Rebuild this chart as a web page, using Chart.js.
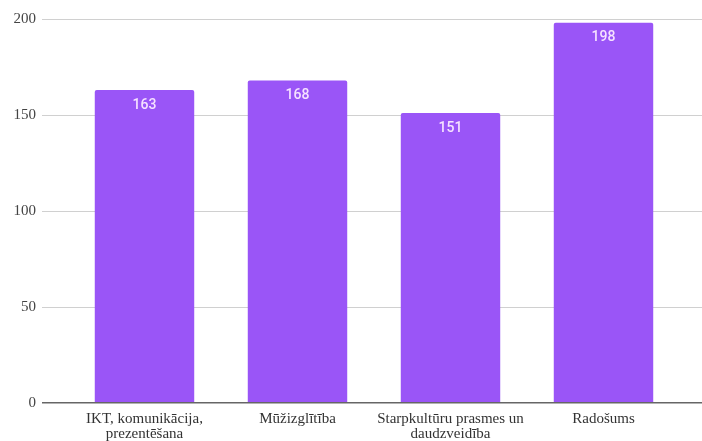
<!DOCTYPE html>
<html>
<head>
<meta charset="utf-8">
<script src="https://cdn.jsdelivr.net/npm/chart.js@4/dist/chart.umd.min.js"></script>
<style>
  html, body { margin: 0; padding: 0; background: #fff; }
  #wrap { width: 702px; height: 441px; }
</style>
</head>
<body>
<div id="wrap"><canvas id="barChart"></canvas></div>
<script>
var categories = [['IKT, komunikācija,', 'prezentēšana'], 'Mūžizglītība', ['Starpkultūru prasmes un', 'daudzveidība'], 'Radošums'];
var counts = [163, 168, 151, 198];
var yTicks = [0, 50, 100, 150, 200];

// zero line is drawn by the plugin below, so hide it here
var gridColor = function (ctx) {
    return ctx.tick && ctx.tick.value === 0 ? 'rgba(0,0,0,0)' : '#d0d0d0';
};

// Google-style grid lines run past the plot on the right
var extendGrid = {
    id: 'extendGrid',
    beforeDatasetsDraw: function (chart) {
        var c = chart.ctx, y = chart.scales.y, area = chart.chartArea;
        c.save();
        c.strokeStyle = '#d0d0d0';
        c.lineWidth = 1;
        yTicks.forEach(function (v) {
            if (v === 0) return;
            var py = Math.round(y.getPixelForValue(v) - 0.5) + 0.5;
            c.beginPath();
            c.moveTo(area.right - 4, py);
            c.lineTo(chart.width, py);
            c.stroke();
        });
        c.restore();
    },
    afterDatasetsDraw: function (chart) {
        var c = chart.ctx, y = chart.scales.y, area = chart.chartArea;
        var py = Math.round(y.getPixelForValue(0) - 0.8) + 0.8;
        c.save();
        c.strokeStyle = '#666666';
        c.lineWidth = 1.6;
        c.beginPath();
        c.moveTo(area.left - 26, py);
        c.lineTo(chart.width, py);
        c.stroke();
        c.restore();
    }
};

var barLabels = {
    id: 'barLabels',
    afterDatasetsDraw: function (chart) {
        var c = chart.ctx;
        c.save();
        c.fillStyle = '#f6e2ff';
        c.font = '500 14px Roboto, "Liberation Sans", Arial, sans-serif';
        c.textAlign = 'center';
        c.textBaseline = 'middle';
        chart.getDatasetMeta(0).data.forEach(function (bar, i) {
            c.fillText(counts[i], bar.x, bar.y + 15);
        });
        c.restore();
    }
};

var serif = '"Liberation Serif", "Times New Roman", serif';

var barCtx = document.getElementById('barChart').getContext('2d');
var barChart = new Chart(barCtx, {
    type: 'bar',
    data: {
        labels: categories,
        datasets: [{
            data: counts,
            backgroundColor: '#9a55f7',
            categoryPercentage: 0.65,
            barPercentage: 1,
            borderRadius: { topLeft: 2, topRight: 2 },
            borderSkipped: 'bottom'
        }]
    },
    options: {
        responsive: true,
        maintainAspectRatio: false,
        animation: false,
        layout: { padding: { top: 19, right: 22, left: 0, bottom: 0 } },
        plugins: {
            legend: { display: false },
            tooltip: { enabled: false }
        },
        scales: {
            x: {
                grid: { display: false, drawTicks: false },
                border: { display: false },
                ticks: {
                    color: '#333333',
                    font: { family: serif, size: 15, lineHeight: 1.0 },
                    maxRotation: 0,
                    autoSkip: false,
                    padding: 9
                },
                afterFit: function (s) { s.height = 38; }
            },
            y: {
                min: 0,
                max: 200,
                afterBuildTicks: function (s) {
                    s.ticks = yTicks.map(function (v) { return { value: v }; });
                },
                grid: { color: gridColor, lineWidth: 1, tickLength: 26, drawTicks: true },
                border: { display: false },
                ticks: {
                    color: '#444444',
                    font: { family: serif, size: 15 },
                    padding: 6
                },
                afterFit: function (s) { s.width = 68; }
            }
        }
    },
    plugins: [extendGrid, barLabels]
});
</script>
</body>
</html>
